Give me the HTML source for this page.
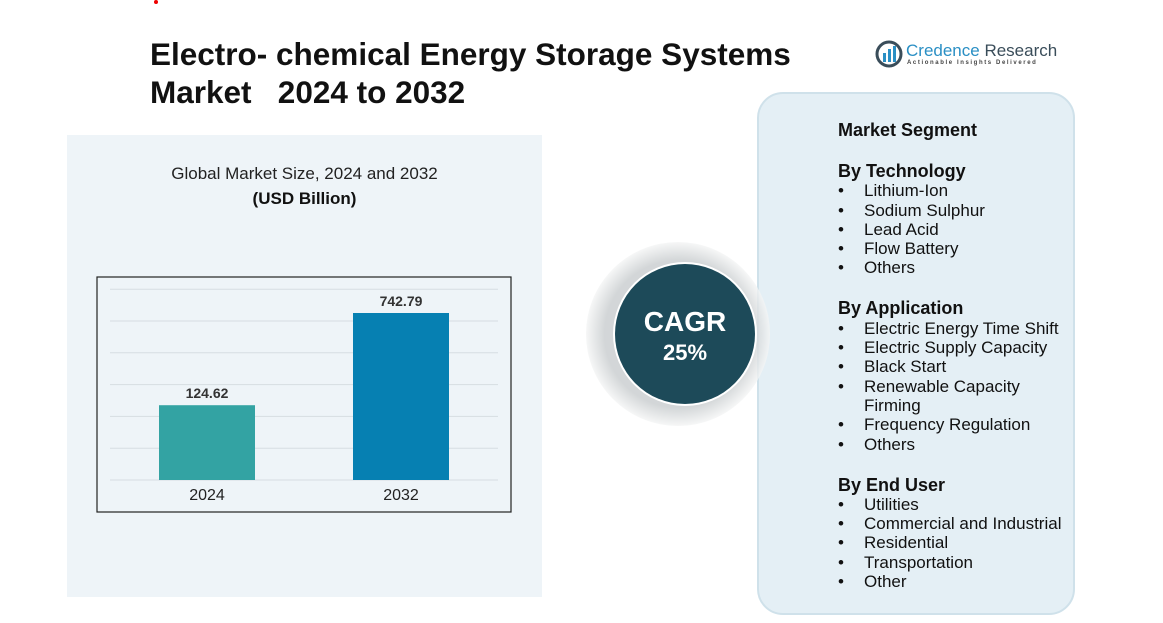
<!DOCTYPE html>
<html><head><meta charset="utf-8"><style>
body{margin:0;width:1163px;height:623px;background:#fff;position:relative;overflow:hidden;font-family:"Liberation Sans",sans-serif;color:#111}
.a{position:absolute;margin:0}
.title{left:150px;top:35px;font-size:31.5px;font-weight:bold;line-height:38px;color:#111}
.panel{left:67px;top:135px;width:475px;height:462px;background:#eef4f8}
.seg{left:757px;top:92px;width:318px;height:523px;background:#e4eff5;border:2px solid #cfe1ea;border-radius:26px;box-sizing:border-box}
.list{left:838px;top:121px;font-size:17px;line-height:19.3px;color:#111}
.list b{display:block;font-size:18px;margin-top:21.7px}
.list div{padding-left:26px;position:relative}
.list div:before{content:"•";position:absolute;left:0}
</style></head><body>
<div class="a panel"></div>
<div class="a seg"></div>
<div class="a" style="left:154px;top:0;width:4px;height:4px;border-radius:2px;background:#e00"></div>
<div class="a title">Electro- chemical Energy Storage Systems<br>Market&nbsp;&nbsp; 2024 to 2032</div>
<div class="a" style="left:875px;top:40px">
<svg width="28" height="28" viewBox="0 0 28 28"><circle cx="14" cy="14" r="12" fill="none" stroke="#3a4d5a" stroke-width="3"/><rect x="8" y="13" width="3" height="9" fill="#2a8fc4"/><rect x="13" y="9" width="3" height="13" fill="#2a8fc4"/><rect x="18" y="6" width="3" height="16" fill="#2a8fc4"/></svg></div>
<div class="a" style="left:906px;top:41px;font-size:17px;color:#2a8fc4">Credence <span style="color:#3a4d5a">Research</span></div>
<div class="a" style="left:907px;top:60px;font-size:6px;letter-spacing:1.6px;color:#444;font-weight:bold">Actionable Insights Delivered</div>
<div class="a" style="left:67px;width:475px;top:164px;text-align:center;font-size:17px;color:#222">Global Market Size, 2024 and 2032</div>
<div class="a" style="left:67px;width:475px;top:189px;text-align:center;font-size:17px;font-weight:bold">(USD Billion)</div>
<svg class="a" id="chart" style="left:0;top:0" width="1163" height="623">
<rect x="97" y="277" width="414" height="235" fill="none" stroke="#222" stroke-width="1.2"/>
</svg>
<svg class="a" style="left:0;top:0" width="1163" height="623">
<defs><radialGradient id="g" cx="0.5" cy="0.5" r="0.5"><stop offset="0.8" stop-color="#c8ccce"/><stop offset="1" stop-color="#f4f5f5"/></radialGradient></defs>
<circle cx="678" cy="334" r="92" fill="url(#g)" opacity="0.8"/>
<circle cx="685" cy="334" r="72" fill="#fff"/>
<circle cx="685" cy="334" r="70" fill="#1d4a59"/>
<text x="685" y="331" text-anchor="middle" font-size="28" font-weight="bold" fill="#fff" font-family="Liberation Sans">CAGR</text>
<text x="685" y="360" text-anchor="middle" font-size="22" font-weight="bold" fill="#fff" font-family="Liberation Sans">25%</text>
</svg>
<div class="a list">
<b style="margin-top:0">Market Segment</b>
<b>By Technology</b>
<div>Lithium-Ion</div><div>Sodium Sulphur</div><div>Lead Acid</div><div>Flow Battery</div><div>Others</div>
<b>By Application</b>
<div>Electric Energy Time Shift</div><div>Electric Supply Capacity</div><div>Black Start</div><div>Renewable Capacity<br>Firming</div><div>Frequency Regulation</div><div>Others</div>
<b>By End User</b>
<div>Utilities</div><div>Commercial and Industrial</div><div>Residential</div><div>Transportation</div><div>Other</div>
</div>
<script>
const categories=["2024","2032"];
const values=[124.62,742.79];
const valueLabels=["124.62","742.79"];
const colors=["#33a3a3","#0680b2"];
const svg=document.getElementById('chart');
const NS="http://www.w3.org/2000/svg";
const baseY=480, maxV=742.79, maxH=167;
function yScale(v){return baseY-maxH*Math.pow(v/maxV,0.45);}
function xBand(i){return 159+i*194;}
for(let k=0;k<7;k++){const l=document.createElementNS(NS,'line');


const y=baseY-k*31.8;l.setAttribute('x1',110);l.setAttribute('x2',498);l.setAttribute('y1',y);l.setAttribute('y2',y);l.setAttribute('stroke','#d6dde2');svg.appendChild(l);}
values.forEach((v,i)=>{
const r=document.createElementNS(NS,'rect');


const y=yScale(v);r.setAttribute('x',xBand(i));r.setAttribute('y',y);r.setAttribute('width',96);r.setAttribute('height',baseY-y);r.setAttribute('fill',colors[i]);svg.appendChild(r);
const t=document.createElementNS(NS,'text');


t.setAttribute('x',xBand(i)+48);t.setAttribute('y',y-7);t.setAttribute('text-anchor','middle');t.setAttribute('font-size','14');t.setAttribute('font-weight','bold');t.setAttribute('fill','#333');t.setAttribute('font-family','Liberation Sans');t.textContent=valueLabels[i];svg.appendChild(t);
const c=document.createElementNS(NS,'text');


c.setAttribute('x',xBand(i)+48);c.setAttribute('y',500);c.setAttribute('text-anchor','middle');c.setAttribute('font-size','16');c.setAttribute('fill','#222');c.setAttribute('font-family','Liberation Sans');c.textContent=categories[i];svg.appendChild(c);
});
</script>
</body></html>
